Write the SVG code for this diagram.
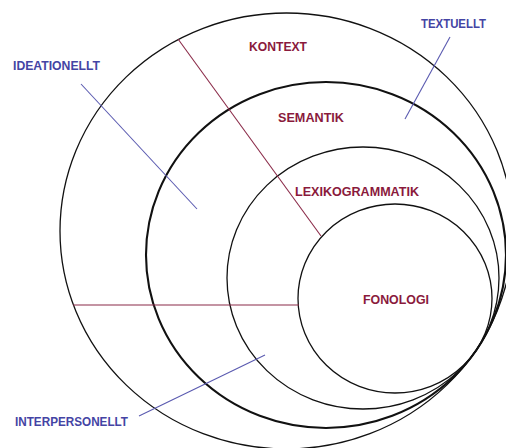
<svg xmlns="http://www.w3.org/2000/svg" width="506" height="448" viewBox="0 0 506 448">
<style>
.ring{fill:none;stroke:#111;stroke-width:1.3}
.thick{stroke-width:2.1}
.red{font-family:"Liberation Sans",Arial,sans-serif;font-weight:bold;font-size:13px;fill:#8a1a3c;text-anchor:middle}
.blue{font-family:"Liberation Sans",Arial,sans-serif;font-weight:bold;font-size:13px;fill:#4444a4;text-anchor:middle}
.rl{stroke:#8a2a48;stroke-width:1.1;fill:none}
.bl{stroke:#5a5ab0;stroke-width:1.1;fill:none}
</style>
<rect width="506" height="448" fill="#fff"/>
<g id="kontext">
<ellipse class="ring" cx="286.5" cy="231" rx="226.5" ry="218"/>
<text class="red" x="278" y="51" textLength="58" lengthAdjust="spacingAndGlyphs">KONTEXT</text>
</g>
<g id="semantik">
<ellipse class="ring thick" cx="326" cy="255" rx="180" ry="173"/>
<text class="red" x="311" y="122" textLength="66" lengthAdjust="spacingAndGlyphs">SEMANTIK</text>
</g>
<g id="lexikogrammatik">
<ellipse class="ring" cx="363" cy="278" rx="136" ry="131"/>
<text class="red" x="357" y="196" textLength="124" lengthAdjust="spacingAndGlyphs">LEXIKOGRAMMATIK</text>
</g>
<g id="fonologi">
<ellipse class="ring" cx="395" cy="298.5" rx="97" ry="94.5"/>
<text class="red" x="396" y="304" textLength="66" lengthAdjust="spacingAndGlyphs">FONOLOGI</text>
</g>
<g id="ideationellt">
<text class="blue" x="56.5" y="70" textLength="87" lengthAdjust="spacingAndGlyphs">IDEATIONELLT</text>
</g>
<g id="textuellt">
<text class="blue" x="453.5" y="28" textLength="65" lengthAdjust="spacingAndGlyphs">TEXTUELLT</text>
</g>
<g id="interpersonellt">
<text class="blue" x="71.5" y="426" textLength="113" lengthAdjust="spacingAndGlyphs">INTERPERSONELLT</text>
</g>
<g id="connectors">
<line class="rl" x1="178" y1="39" x2="321" y2="236"/>
<line class="rl" x1="73" y1="305" x2="299" y2="305"/>
<line class="bl" x1="81" y1="84" x2="197" y2="209"/>
<line class="bl" x1="450" y1="37" x2="405" y2="119"/>
<line class="bl" x1="139" y1="416" x2="265" y2="355"/>
</g>
</svg>
